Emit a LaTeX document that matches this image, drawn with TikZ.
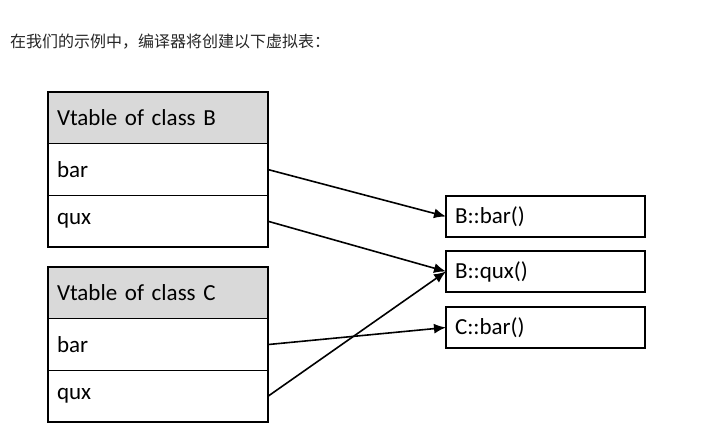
\documentclass[tikz,border=0pt]{standalone}
\usepackage{fontspec}
\setmainfont{Carlito}
\newfontfamily\cjk{Noto Sans CJK SC}
\usetikzlibrary{arrows.meta,positioning}
\definecolor{headgray}{HTML}{D9D9D9}

\begin{document}
\begin{tikzpicture}[x=1pt, y=-1pt,
    cell/.style={draw, line width=1.5pt, outer sep=0pt, anchor=north west,
        minimum width=220pt, minimum height=51.7pt, text width=202pt,
        inner xsep=9pt, align=left, font=\fontsize{23}{27}\selectfont},
    head/.style={cell, fill=headgray},
    func/.style={cell, minimum width=199pt, minimum height=41pt, text width=181pt},
    ptr/.style={-{Latex[length=12pt, width=10pt]}, line width=1.6pt}]
    \useasboundingbox (0,0) rectangle (727,435);

    \node[anchor=west, inner sep=0pt, text=black!85, font=\cjk\fontsize{16}{19}\selectfont] (intro) at (10,42) {在我们的示例中，编译器将创建以下虚拟表：};

    % vtable of B
    \node[head] (tabB) at (48,92) {Vtable of class B};
    \node[cell, below=0pt of tabB] (Bbar) {bar};
    \node[cell, below=0pt of Bbar] (Bqux) {qux};

    % vtable of C
    \node[head] (tabC) at (48,267) {Vtable of class C};
    \node[cell, below=0pt of tabC] (Cbar) {bar};
    \node[cell, below=0pt of Cbar] (Cqux) {qux};

    % functions
    \node[func] (fBbar) at (446,196) {B::bar()};
    \node[func] (fBqux) at (446,251) {B::qux()};
    \node[func] (fCbar) at (446,307) {C::bar()};

    \draw[ptr] (Bbar.east) -- (fBbar.west);
    \draw[ptr] (Bqux.east) -- (fBqux.west);
    \draw[ptr] (Cbar.east) -- (fCbar.west);
    \draw[ptr] (Cqux.east) -- (fBqux.west);

\end{tikzpicture}
\end{document}
